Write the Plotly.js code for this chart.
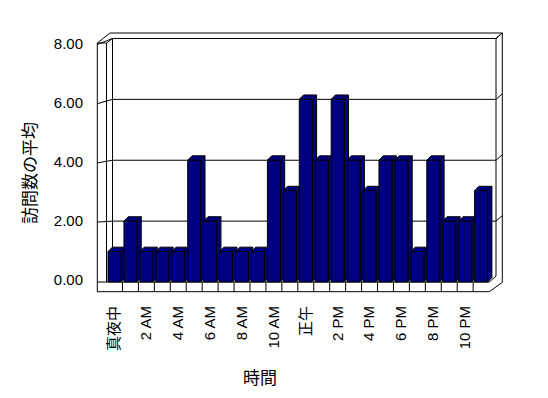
<!DOCTYPE html>
<html>
<head>
<meta charset="utf-8">
<script src="https://cdn.plot.ly/plotly-3.0.1.min.js"></script>
<style>html,body{margin:0;padding:0;background:#fff;}#chart{width:548px;height:398px;}</style>
</head>
<body>
<div id="chart"></div>
<script>
// ---- data ----
const hours = ['真夜中','1 AM','2 AM','3 AM','4 AM','5 AM','6 AM','7 AM','8 AM','9 AM','10 AM','11 AM',
               '正午','1 PM','2 PM','3 PM','4 PM','5 PM','6 PM','7 PM','8 PM','9 PM','10 PM','11 PM'];
const visits = [1,2,1,1,1,4,2,1,1,1,4,3,6,4,6,4,3,4,4,1,4,2,2,3];
const yTicks = [0,2,4,6,8];
const yTickText = ['0.00','2.00','4.00','6.00','8.00'];
const xTitle = '時間';
const yTitle = '訪問数の平均';

// ---- geometry ----
const L = 90, T = 30, W = 422, H = 266;
const pitch = 15.94, unit = 30.44;
const xa = -(114.5 - L) / pitch, xb = xa + W / pitch;
const ya = -(T + H - 282) / unit, yb = ya + H / unit;
const X = px => xa + (px - L) / pitch;
const Y = py => yb - (py - T) / unit;
const P = (px, py) => X(px) + ',' + Y(py);
const gap = 0.185, bw = 1 - gap;
const dx = 4.3 / pitch, dy = 4.4 / unit;
const xs = hours.map((h, i) => i);

const shapes = [];
const blk = {color: '#000', width: 1};
shapes.push({type: 'path', layer: 'below', xref: 'x', yref: 'y', fillcolor: '#fff', line: blk,
  path: 'M' + P(97.3, 291.7) + 'L' + P(97.3, 43) + 'L' + P(110, 33) + 'L' + P(502.3, 33) +
        'L' + P(502.3, 282.3) + 'L' + P(489.3, 291.7) + 'Z'});
function seg(a, b, c, d) {
  shapes.push({type: 'path', layer: 'below', xref: 'x', yref: 'y', line: blk, path: 'M' + P(a, b) + 'L' + P(c, d)});
}
seg(97.3, 43, 106.5, 43);
seg(106.5, 43, 106.5, 282);
seg(106.5, 43, 112.5, 38.5);
seg(112.5, 38.5, 112.5, 277);
seg(496, 38.5, 496, 276);
seg(496, 38.5, 502.3, 33);
seg(97.3, 282, 489.3, 282);
seg(489.3, 282, 496, 276);
// floor cell dividers
for (let i = 0; i < hours.length - 1; i++) {
  shapes.push({type: 'line', layer: 'below', xref: 'x', yref: 'y', line: blk,
    x0: i + 0.5, x1: i + 0.5, y0: Y(282), y1: Y(291.7)});
}
// gridlines on walls
const frontY = v => Y(281.3 - 29.6 * v);
yTicks.filter(v => v > 0).forEach(v => {
  const xl = X(112.5), xr = X(496);
  shapes.push({type: 'path', layer: 'below', xref: 'x', yref: 'y', line: blk,
    path: 'M' + X(97.3) + ',' + frontY(v) + 'L' + xl + ',' + v + 'L' + xr + ',' + v +
          'L' + X(502.3) + ',' + (v + 5.5 / unit)});
});
// 3D bar faces
const navy = '#000080';
visits.forEach((v, i) => {
  const x0 = xs[i] - bw / 2, x1 = xs[i] + bw / 2;
  shapes.push({type: 'path', layer: 'below', xref: 'x', yref: 'y', fillcolor: navy, line: blk,
    path: 'M' + x1 + ',0L' + (x1 + dx) + ',' + dy + 'L' + (x1 + dx) + ',' + (v + dy) + 'L' + x1 + ',' + v + 'Z'});
  shapes.push({type: 'path', layer: 'below', xref: 'x', yref: 'y', fillcolor: navy, line: blk,
    path: 'M' + x0 + ',' + v + 'L' + (x0 + dx) + ',' + (v + dy) + 'L' + (x1 + dx) + ',' + (v + dy) + 'L' + x1 + ',' + v + 'Z'});
});

const font = 'Liberation Sans, Arial, Noto Sans CJK JP, sans-serif';
const cjk = 'Noto Sans CJK JP, sans-serif';

const data = [{
  type: 'bar', x: xs, y: visits,
  marker: {color: navy, line: {color: '#000', width: 1}},
  hoverinfo: 'skip'
}, {
  type: 'scatter', x: [], y: [], yaxis: 'y2', mode: 'markers', hoverinfo: 'skip', showlegend: false
}];

const tickIdx = xs.filter(i => i % 2 === 0);
const layout = {
  width: 548, height: 398,
  margin: {l: L, r: 548 - L - W, t: T, b: 398 - T - H, pad: 0},
  paper_bgcolor: '#fff', plot_bgcolor: 'rgba(0,0,0,0)',
  showlegend: false, bargap: gap,
  font: {family: font, size: 15, color: '#000'},
  xaxis: {range: [xa, xb], tickvals: tickIdx, ticktext: tickIdx.map(i => hours[i]),
          tickangle: -90, showgrid: false, zeroline: false, showline: false, ticks: '',
          ticklabelstandoff: 6, tickfont: {family: font, size: 15, color: '#000'}},
  yaxis: {range: [ya, yb], showgrid: false, zeroline: false, showline: false, showticklabels: false, ticks: ''},
  yaxis2: {overlaying: 'y', anchor: 'x', side: 'left', range: [-(T + H - 280) / 29.5, (280 - T) / 29.5],
           tickvals: yTicks, ticktext: yTickText, showgrid: false, zeroline: false, showline: false,
           ticks: '', ticklabelstandoff: 6, tickfont: {family: font, size: 15, color: '#000'}},
  shapes: shapes,
  annotations: [
    {text: yTitle, xref: 'paper', yref: 'paper', x: (28 - L) / W, y: (T + H - 173) / H,
     xanchor: 'center', yanchor: 'middle',
     textangle: -90, showarrow: false, font: {family: cjk, size: 17, color: '#000'}},
    {text: xTitle, xref: 'paper', yref: 'paper', x: (259.5 - L) / W, y: (T + H - 376) / H,
     xanchor: 'center', yanchor: 'middle',
     showarrow: false, font: {family: cjk, size: 17, color: '#000'}}
  ]
};
Plotly.newPlot('chart', data, layout, {staticPlot: true, displayModeBar: false});
</script>
</body>
</html>
